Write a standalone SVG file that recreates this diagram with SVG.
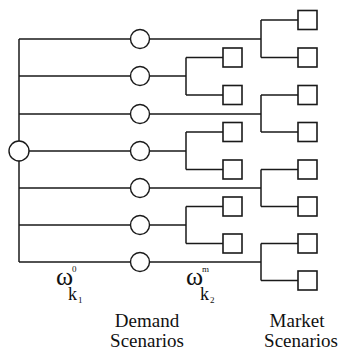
<svg xmlns="http://www.w3.org/2000/svg" width="341" height="352" viewBox="0 0 341 352">
<style>
.ln{fill:none;stroke:#1a1a1a;stroke-width:1.5}
.c{fill:#fff;stroke:#1a1a1a;stroke-width:1.4}
.s{fill:#fff;stroke:#1a1a1a;stroke-width:1.6}
.t{font-family:"Liberation Serif","Times New Roman",serif;fill:#111}
</style>
<rect width="341" height="352" fill="#fff"/>
<g id="connectors" class="ln">
<path d="M19 39V262"/>
<path d="M19 39H261M19 76H186M19 114H261M19 151H186M19 188H261M19 225H186M19 262H261"/>
<path d="M261 20V57.5M261 20H298M261 57.5H298"/>
<path d="M186 57.5V95M186 57.5H223M186 95H223"/>
<path d="M261 95V132M261 95H298M261 132H298"/>
<path d="M186 132V169.5M186 132H223M186 169.5H223"/>
<path d="M261 169.5V206.5M261 169.5H298M261 206.5H298"/>
<path d="M186 206.5V243.5M186 206.5H223M186 243.5H223"/>
<path d="M261 243.5V280.5M261 243.5H298M261 280.5H298"/>
</g>
<g id="root"><circle class="c" cx="19" cy="151" r="10"/></g>
<g id="d1"><circle class="c" cx="140" cy="39" r="9.5"/></g>
<g id="d2"><circle class="c" cx="140" cy="76" r="9.5"/></g>
<g id="d3"><circle class="c" cx="140" cy="114" r="9.5"/></g>
<g id="d4"><circle class="c" cx="140" cy="151" r="9.5"/></g>
<g id="d5"><circle class="c" cx="140" cy="188" r="9.5"/></g>
<g id="d6"><circle class="c" cx="140" cy="225" r="9.5"/></g>
<g id="d7"><circle class="c" cx="140" cy="262" r="9.5"/></g>
<g id="m2a"><rect class="s" x="223" y="48" width="19" height="19"/></g>
<g id="m2b"><rect class="s" x="223" y="85.5" width="19" height="19"/></g>
<g id="m4a"><rect class="s" x="223" y="122.5" width="19" height="19"/></g>
<g id="m4b"><rect class="s" x="223" y="160" width="19" height="19"/></g>
<g id="m6a"><rect class="s" x="223" y="197" width="19" height="19"/></g>
<g id="m6b"><rect class="s" x="223" y="234" width="19" height="19"/></g>
<g id="m1a"><rect class="s" x="298" y="10.5" width="19" height="19"/></g>
<g id="m1b"><rect class="s" x="298" y="48" width="19" height="19"/></g>
<g id="m3a"><rect class="s" x="298" y="85.5" width="19" height="19"/></g>
<g id="m3b"><rect class="s" x="298" y="122.5" width="19" height="19"/></g>
<g id="m5a"><rect class="s" x="298" y="160" width="19" height="19"/></g>
<g id="m5b"><rect class="s" x="298" y="197" width="19" height="19"/></g>
<g id="m7a"><rect class="s" x="298" y="234" width="19" height="19"/></g>
<g id="m7b"><rect class="s" x="298" y="271" width="19" height="19"/></g>
<g id="labels" class="t">
<text x="56" y="285" font-size="26">ω</text>
<text x="72" y="272" font-size="9">0</text>
<text x="68" y="300" font-size="18">k</text>
<text x="78" y="303" font-size="9">1</text>
<text x="186" y="285" font-size="26">ω</text>
<text x="202" y="272" font-size="9">m</text>
<text x="200" y="300" font-size="18">k</text>
<text x="210" y="303" font-size="9">2</text>
<text x="147" y="327" font-size="19" text-anchor="middle">Demand</text>
<text x="147" y="347" font-size="19" text-anchor="middle">Scenarios</text>
<text x="297" y="327" font-size="19" text-anchor="middle">Market</text>
<text x="301" y="347" font-size="19" text-anchor="middle">Scenarios</text>
</g>
</svg>
